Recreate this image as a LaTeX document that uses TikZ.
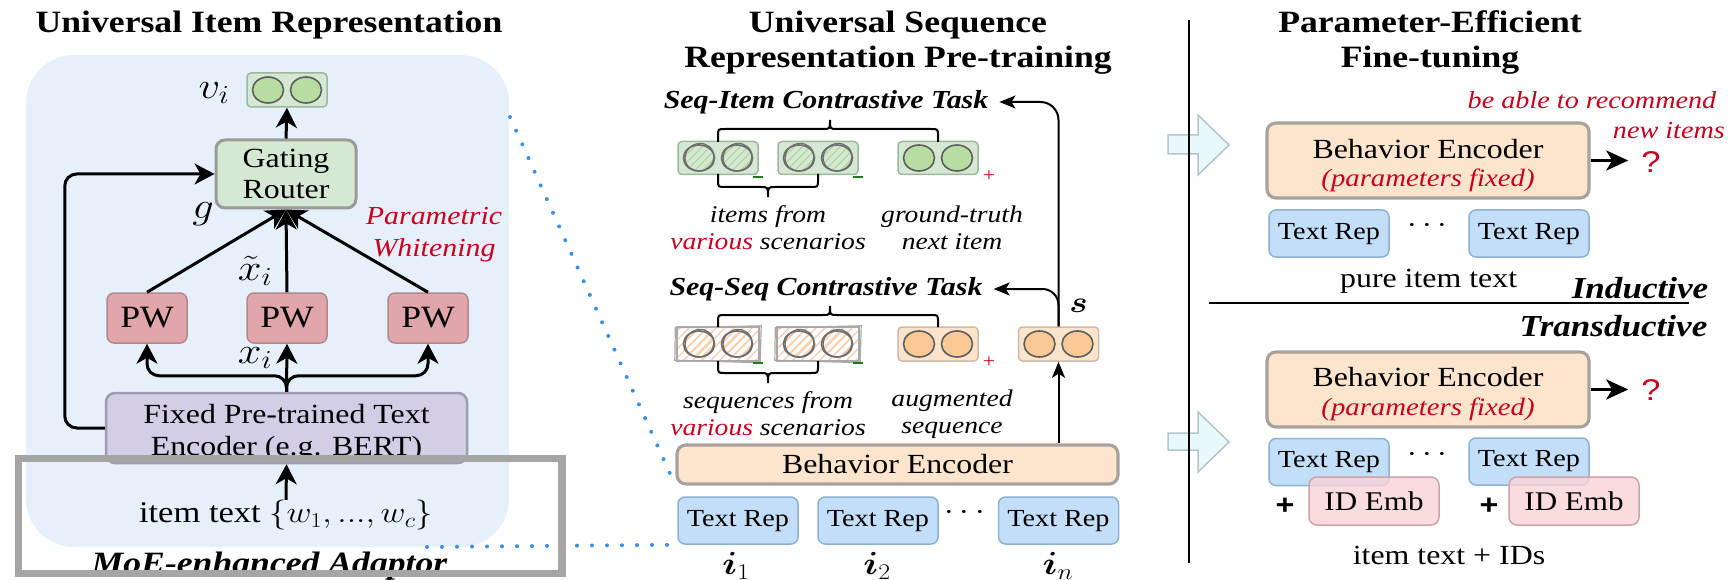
\RequirePackage{fix-cm}
\documentclass[tikz,border=0pt]{standalone}
\usepackage{amsmath}
\usepackage{fontspec}
\setmainfont{Liberation Serif}[FakeStretch=1.15]
\newfontfamily\qsans{Liberation Sans}[FakeStretch=1.15]
\usepackage{graphicx}
\usetikzlibrary{arrows.meta}

\definecolor{regionblue}{HTML}{E6F0FB}
\definecolor{gfill}{HTML}{D5E8D4}
\definecolor{gline}{HTML}{9DB89A}
\definecolor{gcirc}{HTML}{B7DDA0}
\definecolor{circline}{HTML}{5E5E5E}
\definecolor{pwfill}{HTML}{E0A6AB}
\definecolor{pwline}{HTML}{B4878B}
\definecolor{encfill}{HTML}{D3CEE6}
\definecolor{encline}{HTML}{9E9BB3}
\definecolor{befill}{HTML}{FDE5CD}
\definecolor{beline}{HTML}{A8A29C}
\definecolor{ofill}{HTML}{FCE4CC}
\definecolor{oline}{HTML}{CDBBA7}
\definecolor{ocirc}{HTML}{FBC996}
\definecolor{trfill}{HTML}{C2DEF8}
\definecolor{trline}{HTML}{8DB1D3}
\definecolor{idfill}{HTML}{F9D3D7}
\definecolor{idline}{HTML}{CFA2A8}
\definecolor{arrowfill}{HTML}{E9F9FB}
\definecolor{arrowline}{HTML}{B3C6CC}
\definecolor{redtext}{HTML}{C8001E}
\definecolor{dotblue}{HTML}{3B8EEA}
\definecolor{framegray}{HTML}{A5A5A5}
\definecolor{greenminus}{HTML}{1D7A1D}
\definecolor{hatchgreen}{HTML}{B3D79C}
\definecolor{hatchorange}{HTML}{F8CDA6}
\definecolor{sketchgray}{HTML}{6E6E6E}
\definecolor{sketchbox}{HTML}{A9A9A9}
\definecolor{gateline}{HTML}{9A9A9A}

\newcommand{\fsz}[1]{\fontsize{#1}{#1}\selectfont}
\newcommand{\sx}[1]{\scalebox{1.15}[1]{#1}}

% two solid embedding dots centred at (#1,#2)
\newcommand{\dotpair}[3]{%
  \draw[fill=#3, draw=circline, line width=1.6pt] (#1-19,#2) ellipse (15.5pt and 13pt);
  \draw[fill=#3, draw=circline, line width=1.6pt] (#1+19,#2) ellipse (15.5pt and 13pt);}

% one hand-drawn hatched dot centred at (#1,#2)
\newcommand{\hatchdot}[3]{%
  \begin{scope}
    \clip (#1,#2) ellipse (15pt and 13pt);
    \foreach \k in {-40,-32,...,40}
      \draw[#3, line width=1.3pt] (#1+\k-16,#2+16) -- (#1+\k+16,#2-16);
  \end{scope}
  \draw[sketchgray, line width=1.7pt] (#1,#2) ellipse (15.5pt and 13pt);
  \draw[sketchgray, line width=1.2pt, rotate around={25:(#1,#2)}] (#1+0.8,#2-0.5) ellipse (14.6pt and 13.6pt);}

% hand-drawn hatched frame around node #1
\newcommand{\hatchbox}[1]{%
  \begin{scope}
    \clip (#1.south west) rectangle (#1.north east);
    \foreach \k in {-72,-63,...,72}
      \draw[hatchorange, line width=1.3pt] ([shift={(\k-22,22)}]#1.center) -- ([shift={(\k+22,-22)}]#1.center);
  \end{scope}
  \draw[sketchbox, line width=1.8pt] (#1.south west) rectangle (#1.north east);
  \draw[sketchbox, line width=1.2pt] ([shift={(-1.5,1)}]#1.north west) -- ([shift={(2,-1)}]#1.north east)
     -- ([shift={(1,1.5)}]#1.south east) -- ([shift={(-2,-1)}]#1.south west) -- cycle;}

\begin{document}
\begin{tikzpicture}[x=1pt,y=-1pt,
  every node/.style={inner sep=0pt},
  title/.style={font=\fontsize{31}{35}\selectfont\bfseries, align=center},
  gbox/.style={draw=gline, fill=gfill, line width=1.5pt, rounded corners=4pt, minimum width=80pt, minimum height=33pt},
  obox/.style={draw=oline, fill=ofill, line width=1.5pt, rounded corners=4pt, minimum width=80pt, minimum height=34pt},
  plainbox/.style={minimum width=82pt, minimum height=34pt},
  gatebox/.style={draw=gateline, fill=gfill, line width=3pt, rounded corners=9pt, minimum width=140pt, minimum height=68pt, align=center, font=\fontsize{27.7}{31}\selectfont},
  pwbox/.style={draw=pwline, fill=pwfill, line width=1.5pt, rounded corners=7pt, minimum width=80pt, minimum height=50pt, font=\fsz{31}},
  encbox/.style={draw=encline, fill=encfill, line width=2.5pt, rounded corners=9pt, minimum width=361pt, minimum height=70pt},
  bebox/.style={draw=beline, fill=befill, line width=3.2pt, rounded corners=9pt},
  trbox/.style={draw=trline, fill=trfill, line width=1.5pt, rounded corners=7pt, minimum width=120pt, minimum height=47pt},
  trtext/.style={font=\fsz{24.5}},
  idbox/.style={draw=idline, fill=idfill, fill opacity=0.8, text opacity=1, line width=1.5pt, rounded corners=8pt, minimum width=130pt, minimum height=48pt, font=\fsz{27}},
  txt/.style={font=\fsz{27.7}},
  ital/.style={font=\fontsize{24}{27}\selectfont\itshape, align=center},
  task/.style={font=\fsz{26}\bfseries\itshape},
  redital/.style={text=redtext, font=\itshape},
  mathlbl/.style={font=\fsz{37}},
  qmark/.style={text=redtext, font=\fsz{30}\qsans, inner sep=1pt},
  thickarrow/.style={line width=3pt, -{Stealth[length=20pt,width=21pt,inset=6pt]}},
  midarrow/.style={line width=2pt, -{Stealth[length=16pt,width=13pt,inset=4pt]}},
  rightarrow/.style={line width=3.5pt, -{Stealth[length=22pt,width=20pt,inset=6pt]}},
  dotline/.style={dotblue, line width=4pt, line cap=round, dash pattern=on 0pt off 15pt},
  bracel/.style={line width=2pt},
  blockarrow/.style={fill=arrowfill, draw=arrowline, line width=1.5pt},
]
\useasboundingbox (0,0) rectangle (1729,580);

% ---------------- Universal item representation ----------------
\node[fill=regionblue, rounded corners=48pt, minimum width=483pt, minimum height=492pt] (uir) at (267.5,301) {};
\node[title] (t1) at (269,25) {Universal Item Representation};

\node[gbox, minimum height=34pt] (vbox) at (287,90) {};
\dotpair{287}{90}{gcirc}
\node[mathlbl] (vlab) at (214,93) {\sx{$v_i$}};

\node[gatebox] (gate) at (286,174) {Gating\\Router};
\draw[thickarrow] (gate.north) -- (vbox.south);

\node[pwbox] (pw1) at (147,318) {PW};
\node[pwbox] (pw2) at (287,318) {PW};
\node[pwbox] (pw3) at (428,318) {PW};

\node[encbox] (enc) at (286.5,428) {};
\node[txt, anchor=base] (enc1) at (286.5,423) {Fixed Pre-trained Text};
\node[txt, anchor=base] (enc2) at (286.5,455) {Encoder (e.g. BERT)};

\draw[thickarrow] (pw1.north) -- (gate.south);
\draw[thickarrow] (pw2.north) -- (gate.south);
\draw[thickarrow] (pw3.north) -- (gate.south);
\draw[thickarrow] (enc.north) -- (pw2.south);
\draw[thickarrow, rounded corners=12pt] (enc.north) -- ++(0,-16) -| (pw1.south);
\draw[thickarrow, rounded corners=12pt] (enc.north) -- ++(0,-16) -| (pw3.south);
\draw[thickarrow, rounded corners=12pt] (enc.west) -- ++(-40,0) |- (gate.west);

\node[mathlbl] (glab) at (203,214) {\sx{$g$}};
\node[mathlbl] (xtlab) at (255,271) {\sx{$\tilde{x}_i$}};
\node[mathlbl] (xlab) at (255,358) {\sx{$x_i$}};
\node[redital, font=\fontsize{26}{32}\selectfont\itshape, align=center] (pwlab) at (434,235) {Parametric\\Whitening};

\node[font=\fsz{30}] (itext) at (286,515) {item text \sx{$\{w_1, ..., w_c\}$}};
\draw[thickarrow] (itext.north) -- (enc.south);

\node[font=\fsz{31}\bfseries\itshape, anchor=base] (moe) at (269.5,573) {MoE-enhanced Adaptor};
\coordinate (tipfrom) at (389,600);
\coordinate (tipto) at (389,577);
\draw[thickarrow] (tipfrom) -- (tipto);

% ---------------- Universal sequence representation pre-training ----------------
\node[title] (t2) at (898,43) {Universal Sequence\\Representation Pre-training};

\node[task] (task1) at (826,102) {Seq-Item Contrastive Task};
\node[task] (task2) at (826,289) {Seq-Seq Contrastive Task};

% seq-item row
\node[gbox] (ia) at (718,158) {};
\node[gbox] (ib) at (818,158) {};
\node[gbox] (ic) at (938,158) {};
\hatchdot{699}{158}{hatchgreen}
\hatchdot{737}{158}{hatchgreen}
\hatchdot{799}{158}{hatchgreen}
\hatchdot{837}{158}{hatchgreen}
\dotpair{938}{158}{gcirc}
\draw[greenminus, line width=2.8pt] (753,177) -- (763,177);
\draw[greenminus, line width=2.8pt] (853,177) -- (863,177);
\node[text=redtext, font=\fsz{19}] (p1) at (989,176) {+};

\draw[bracel] (718,142) -- (718,136) .. controls (718,129) .. (725,129) -- (823,129)
  .. controls (830,129) .. (830,120) .. controls (830,129) .. (837,129) -- (931,129)
  .. controls (938,129) .. (938,136) -- (938,142);
\draw[bracel] (718,174) -- (718,180) .. controls (718,187) .. (725,187) -- (761,187)
  .. controls (768,187) .. (768,197) .. controls (768,187) .. (775,187) -- (811,187)
  .. controls (818,187) .. (818,180) -- (818,174);

\node[ital] (l1) at (768,228) {items from\\{\color{redtext}various} scenarios};
\node[ital] (l2) at (952,228) {ground-truth\\next item};

% seq-seq row
\node[plainbox] (sa) at (718,344) {};
\node[plainbox] (sb) at (818,344) {};
\hatchbox{sa}
\hatchbox{sb}
\node[obox] (sc) at (938,344) {};
\node[obox] (sbox) at (1058.5,344) {};
\hatchdot{699}{344}{hatchorange}
\hatchdot{737}{344}{hatchorange}
\hatchdot{799}{344}{hatchorange}
\hatchdot{837}{344}{hatchorange}
\dotpair{938}{344}{ocirc}
\dotpair{1058.5}{344}{ocirc}
\draw[greenminus, line width=2.8pt] (753,363) -- (763,363);
\draw[greenminus, line width=2.8pt] (853,363) -- (863,363);
\node[text=redtext, font=\fsz{19}] (p2) at (989,362) {+};

\draw[bracel] (718,327) -- (718,322) .. controls (718,315) .. (725,315) -- (823,315)
  .. controls (830,315) .. (830,306) .. controls (830,315) .. (837,315) -- (931,315)
  .. controls (938,315) .. (938,322) -- (938,327);
\draw[bracel] (718,361) -- (718,366) .. controls (718,373) .. (725,373) -- (761,373)
  .. controls (768,373) .. (768,383) .. controls (768,373) .. (775,373) -- (811,373)
  .. controls (818,373) .. (818,366) -- (818,361);

\node[ital] (l3) at (768,414) {sequences from\\{\color{redtext}various} scenarios};
\node[ital] (l4) at (952,414) {augmented\\sequence};

\node[font=\fsz{30}] (slab) at (1078.5,306) {\sx{$\boldsymbol{s}$}};

\node[bebox, minimum width=441pt, minimum height=39pt, font=\fsz{27.7}] (bemid) at (897.5,464.5) {Behavior Encoder};
\node[trbox] (tr1) at (738,520.5) {};
\node[trbox] (tr2) at (878,520.5) {};
\node[trbox] (tr3) at (1058.5,520.5) {};
\node[trtext] (tr1t) at (738,521) {Text Rep};
\node[trtext] (tr2t) at (878,521) {Text Rep};
\node[trtext] (tr3t) at (1058.5,521) {Text Rep};
\node[font=\fsz{30}] (mdots) at (967.5,513) {\sx{$\cdots$}};
\node[font=\fsz{32}] (i1) at (736,566) {\sx{$\boldsymbol{i}_1$}};
\node[font=\fsz{32}] (i2) at (877,566) {\sx{$\boldsymbol{i}_2$}};
\node[font=\fsz{32}] (in) at (1058,566) {\sx{$\boldsymbol{i}_n$}};

\draw[midarrow] (bemid.north -| sbox.south) -- (sbox.south);
\draw[midarrow, rounded corners=18pt] (sbox.north) |- ([xshift=11pt]task1.east);
\draw[midarrow, rounded corners=16pt] (sbox.north) |- ([xshift=11pt]task2.east);

% zoom lines from the item representation to the sequence model
\coordinate (zoomtop) at (510,117);
\coordinate (zoombot) at (427,547);
\draw[dotline] (zoomtop) -- (bemid.south west);
\draw[dotline] (zoombot) -- (tr1.south west);

% frame around the item text
\node[draw=framegray, line width=7.5pt, minimum width=543.3pt, minimum height=115pt] (frame) at (290.35,516) {};

% ---------------- Parameter-efficient fine-tuning ----------------
\filldraw[blockarrow] (1168,135) -- (1198,135) -- (1198,115) -- (1229,145) -- (1198,175) -- (1198,154) -- (1168,154) -- cycle;
\filldraw[blockarrow] (1168,433) -- (1198,433) -- (1198,412) -- (1229,442) -- (1198,472) -- (1198,450) -- (1168,450) -- cycle;
\coordinate (divtop) at (1189,20);
\coordinate (divbot) at (1189,563);
\draw[line width=1.6pt] (divtop) -- (divbot);

\node[title] (t3) at (1430,43) {Parameter-Efficient\\Fine-tuning};

\node[redital, font=\fsz{24.5}\itshape] (rec1) at (1592,100) {be able to recommend};
\node[redital, font=\fsz{24.5}\itshape, anchor=east] (rec2) at (1725,131) {new items};

% inductive setting
\node[bebox, minimum width=322pt, minimum height=75pt] (be1) at (1428,160.5) {};
\node[txt] (be1a) at (1428,149) {Behavior Encoder};
\node[redital, font=\fsz{25}\itshape] (be1b) at (1428,180) {(parameters fixed)};
\node[qmark] (q1) at (1651,162) {?};
\draw[rightarrow, shorten >=12pt] (be1.east) -- (be1.east -| q1.west);

\node[trbox] (tr4) at (1329,233.5) {};
\node[trbox] (tr5) at (1529,233.5) {};
\node[trtext] (tr4t) at (1329,234) {Text Rep};
\node[trtext] (tr5t) at (1529,234) {Text Rep};
\node[font=\fsz{30}] (rdots1) at (1430,226) {\sx{$\cdots$}};
\node[txt] (pure) at (1428.6,281) {pure item text};
\node[font=\fsz{30.5}\bfseries\itshape] (ind) at (1640,288) {Inductive};

\coordinate (hl) at (1209,303);
\coordinate (hr) at (1689,303);
\draw[line width=1.6pt] (hl) -- (hr);
\node[font=\fsz{30.5}\bfseries\itshape] (trans) at (1613.5,326) {Transductive};

% transductive setting
\node[bebox, minimum width=322pt, minimum height=75pt] (be2) at (1428,389.5) {};
\node[txt] (be2a) at (1428,377) {Behavior Encoder};
\node[redital, font=\fsz{25}\itshape] (be2b) at (1428,409) {(parameters fixed)};
\node[qmark] (q2) at (1651,390) {?};
\draw[rightarrow, shorten >=12pt] (be2.east) -- (be2.east -| q2.west);

\node[trbox] (tr6) at (1329,462) {};
\node[trbox] (tr7) at (1529,461.5) {};
\node[trtext] (tr6t) at (1329,462) {Text Rep};
\node[trtext] (tr7t) at (1529,461.5) {Text Rep};
\node[font=\fsz{30}] (rdots2) at (1430,455) {\sx{$\cdots$}};
\node[idbox] (id1) at (1374,501) {ID Emb};
\node[idbox] (id2) at (1574,501) {ID Emb};
\node[font=\fsz{28}\qsans\bfseries] (plus1) at (1285,506) {+};
\node[font=\fsz{28}\qsans\bfseries] (plus2) at (1489,506) {+};
\node[txt] (ids) at (1449,555) {item text + IDs};
\end{tikzpicture}
\end{document}
